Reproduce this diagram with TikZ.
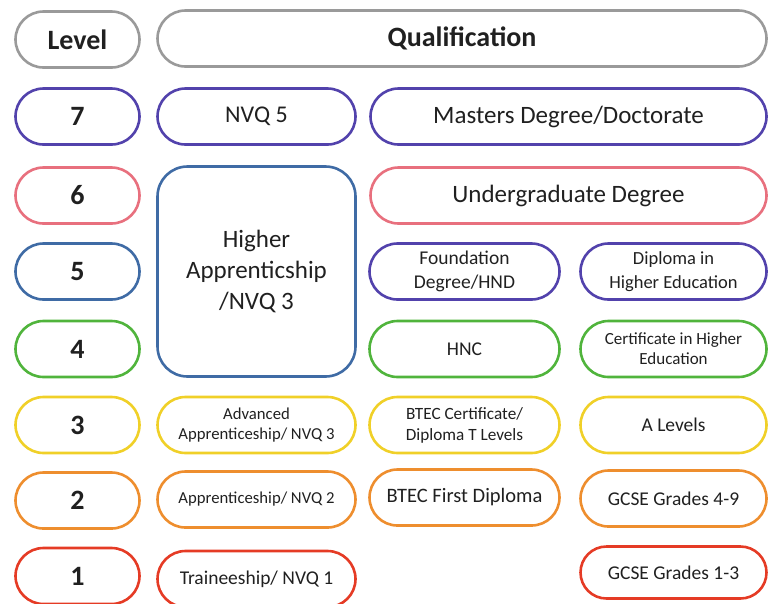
\documentclass[tikz,border=0pt]{standalone}
\usepackage{fontspec}
\setmainfont{Carlito}
\usetikzlibrary{shapes.misc}
\definecolor{cgrey}{HTML}{9A9A9A}
\definecolor{cpurple}{HTML}{5242AC}
\definecolor{cpink}{HTML}{E8707E}
\definecolor{cblue}{HTML}{3F6BA5}
\definecolor{cgreen}{HTML}{50B43C}
\definecolor{cyellow}{HTML}{F0D028}
\definecolor{corange}{HTML}{EE8E2E}
\definecolor{cred}{HTML}{E53B25}
\definecolor{ctext}{HTML}{202020}
\tikzset{
  pill/.style={rounded rectangle, draw, line width=2.6pt, minimum height=56pt, inner sep=0pt, align=center, text=ctext},
  lvl/.style={pill, minimum width=124pt, font=\fontsize{28}{30}\selectfont\bfseries},
  colB/.style={pill, minimum width=198pt},
  colC/.style={pill, minimum width=190pt},
  colD/.style={pill, minimum width=186pt},
  colCD/.style={pill, minimum width=396pt},
}
\begin{document}
\begin{tikzpicture}[x=1pt,y=-1pt]
\useasboundingbox (0,0) rectangle (770,603);
\clip (0,0) rectangle (770,603);
% header
\node[lvl, draw=cgrey] (hl) at (77.5,39.5) {Level};
\node[pill, draw=cgrey, minimum width=609pt, font=\fontsize{28}{30}\selectfont\bfseries] (hq) at (462,38.5) {Qualification};
% level column
\node[lvl, draw=cpurple] (l7) at (77.5,116.5) {7};
\node[lvl, draw=cpink] (l6) at (77.5,195.5) {6};
\node[lvl, draw=cblue] (l5) at (77.5,271.5) {5};
\node[lvl, draw=cgreen] (l4) at (77.5,349) {4};
\node[lvl, draw=cyellow] (l3) at (77.5,425) {3};
\node[lvl, draw=corange] (l2) at (77.5,500.5) {2};
\node[lvl, draw=cred] (l1) at (77.5,576) {1};
% level 7
\node[colB, draw=cpurple, font=\fontsize{24}{26}\selectfont] (nvq5) at (256.5,116.5) {NVQ 5};
\node[colCD, draw=cpurple, font=\fontsize{25}{27}\selectfont] (mast) at (568.5,116.5) {Masters Degree/Doctorate};
% level 6
\node[colCD, draw=cpink, font=\fontsize{25}{27}\selectfont] (ug) at (568.5,195.5) {Undergraduate Degree};
% higher apprenticeship
\node[draw=cblue, line width=2.6pt, rounded corners=30pt, minimum width=198pt, minimum height=210pt, inner sep=0pt, align=center, text=ctext, font=\fontsize{25}{31}\selectfont] (ha) at (256.5,271.5) {Higher\\Apprenticship\\/NVQ 3};
% level 5
\node[colC, draw=cpurple, font=\fontsize{19.5}{24}\selectfont] (fd) at (464.5,271.5) {Foundation\\Degree/HND};
\node[colD, draw=cpurple, font=\fontsize{18.5}{24}\selectfont] (dhe) at (673.5,271.5) {Diploma in\\Higher Education};
% level 4
\node[colC, draw=cgreen, font=\fontsize{19.5}{24}\selectfont] (hnc) at (464.5,349) {HNC};
\node[colD, draw=cgreen, font=\fontsize{17}{20}\selectfont] (che) at (673.5,349) {Certificate in Higher\\Education};
% level 3
\node[colB, draw=cyellow, font=\fontsize{16.7}{20.5}\selectfont] (adv) at (256.5,425) {Advanced\\Apprenticeship/ NVQ 3};
\node[colC, draw=cyellow, font=\fontsize{17.2}{21}\selectfont] (btc) at (464.5,425) {BTEC Certificate/\\Diploma T Levels};
\node[colD, draw=cyellow, font=\fontsize{19.5}{24}\selectfont] (al) at (673.5,425) {A Levels};
% level 2
\node[colB, draw=corange, font=\fontsize{16.7}{20}\selectfont] (app) at (256.5,499.5) {Apprenticeship/ NVQ 2};
\node[colC, draw=corange, font=\fontsize{20.5}{24}\selectfont] (bfd) at (464.5,497.5) {BTEC First Diploma};
\node[colD, draw=corange, font=\fontsize{19.5}{24}\selectfont] (g49) at (673.5,498.5) {GCSE Grades 4-9};
% level 1
\node[colB, draw=cred, font=\fontsize{19.5}{24}\selectfont] (tr) at (256.5,579) {Traineeship/ NVQ 1};
\node[colD, draw=cred, minimum height=52pt, font=\fontsize{19.5}{24}\selectfont] (g13) at (673.5,572.5) {GCSE Grades 1-3};
\end{tikzpicture}
\end{document}
